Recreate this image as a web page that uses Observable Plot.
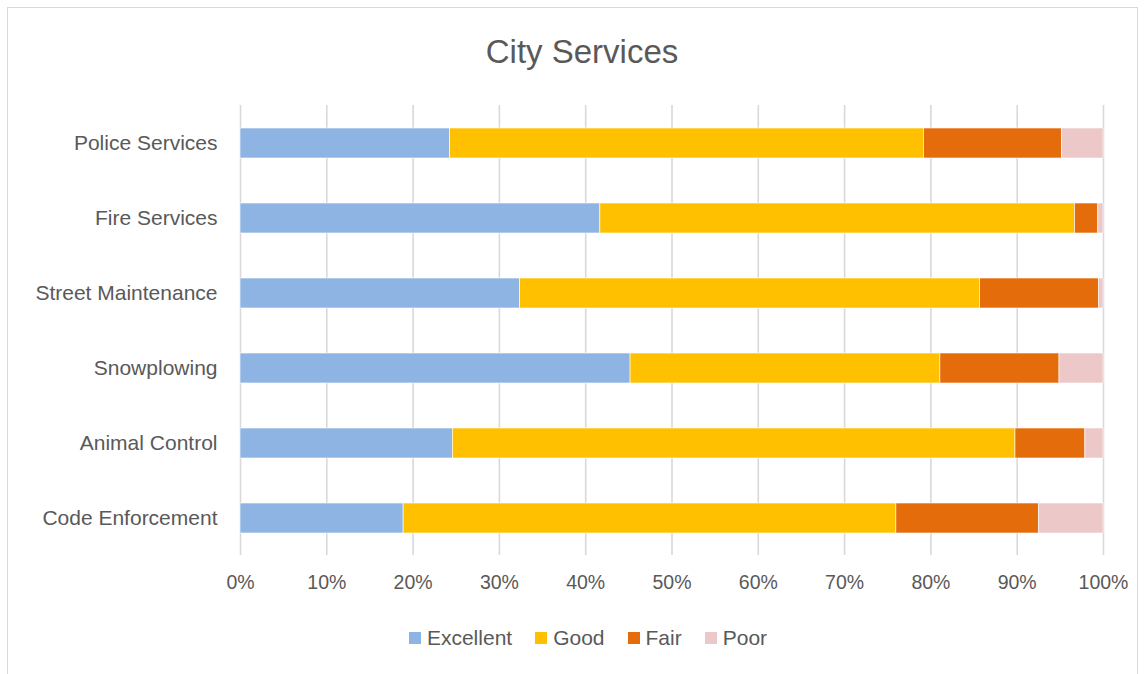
<!DOCTYPE html>
<html>
<head>
<meta charset="utf-8">
<script src="https://cdn.jsdelivr.net/npm/d3@7"></script>
<script src="https://cdn.jsdelivr.net/npm/@observablehq/plot@0.6"></script>
<style>
  html, body { margin: 0; padding: 0; background: #fff; }
  #wrap { position: relative; width: 1145px; height: 674px; overflow: hidden; font-family: "Liberation Sans", Arial, sans-serif; color: #595959; }
  #frame { position: absolute; left: 7px; top: 7px; width: 1131px; height: 680px; border: 1.5px solid #d9d9d9; box-sizing: border-box; }
  #title { position: absolute; top: 33px; left: 0; width: 1164px; text-align: center; font-size: 33px; color: #595959; }
  #chart { position: absolute; left: 0; top: 0; }
  #legend { position: absolute; top: 626px; left: 0; width: 1176px; display: flex; justify-content: center; gap: 23px; font-size: 21px; color: #595959; }
  .item { display: flex; align-items: center; gap: 6px; }
  .sw { width: 12px; height: 12px; display: inline-block; }
</style>
</head>
<body>
<div id="wrap">
  <div id="frame"></div>
  <div id="title">City Services</div>
  <div id="chart"></div>
  <div id="legend"></div>
</div>
<script>
const categories = ["Police Services", "Fire Services", "Street Maintenance", "Snowplowing", "Animal Control", "Code Enforcement"];
const seriesNames = ["Excellent", "Good", "Fair", "Poor"];
const seriesColors = ["#8EB4E3", "#FFC000", "#E46C0A", "#ECC8C8"];
const excellent = [24.3, 41.7, 32.4, 45.2, 24.6, 18.9];
const good      = [54.9, 55.0, 53.3, 35.9, 65.2, 57.1];
const fair      = [16.0,  2.7, 13.8, 13.8,  8.1, 16.5];
const poor      = [ 4.8,  0.6,  0.5,  5.1,  2.1,  7.5];
const xTicks = [0, 0.1, 0.2, 0.3, 0.4, 0.5, 0.6, 0.7, 0.8, 0.9, 1.0];

const seriesValues = [excellent, good, fair, poor];
const rows = [];
categories.forEach((c, i) => {
  seriesNames.forEach((s, j) => {
    rows.push({category: c, series: s, value: seriesValues[j][i] / 100});
  });
});

const plot = Plot.plot({
  width: 1145,
  height: 600,
  marginTop: 105,
  marginBottom: 45,
  marginLeft: 240,
  marginRight: 42,
  style: { fontFamily: "Liberation Sans, Arial, sans-serif", fontSize: "19.5px", color: "#595959", background: "transparent" },
  x: { domain: [0, 1], ticks: xTicks, tickFormat: d3.format(".0%"), label: null },
  y: { domain: categories, paddingInner: 0.6, paddingOuter: 0.3, label: null },
  color: { domain: seriesNames, range: seriesColors },
  marks: [
    Plot.ruleX(xTicks, { stroke: "#d9d9d9", strokeWidth: 1.6 }),
    Plot.barX(rows, Plot.stackX({
      x: "value", y: "category", fill: "series",
      order: seriesNames, stroke: "white", strokeWidth: 0.6
    })),
    Plot.axisX({ ticks: xTicks, tickFormat: d3.format(".0%"), tickSize: 0, tickPadding: 20, fill: "#595959", label: null }),
    Plot.axisY({ tickSize: 0, tickPadding: 23, fill: "#595959", fontSize: 21, label: null })
  ]
});
document.getElementById("chart").appendChild(plot);

const legend = document.getElementById("legend");
seriesNames.forEach((s, i) => {
  const it = document.createElement("div");
  it.className = "item";
  const sw = document.createElement("span");
  sw.className = "sw";
  sw.style.background = seriesColors[i];
  const t = document.createElement("span");
  t.textContent = s;
  it.appendChild(sw); it.appendChild(t);
  legend.appendChild(it);
});
</script>
</body>
</html>
